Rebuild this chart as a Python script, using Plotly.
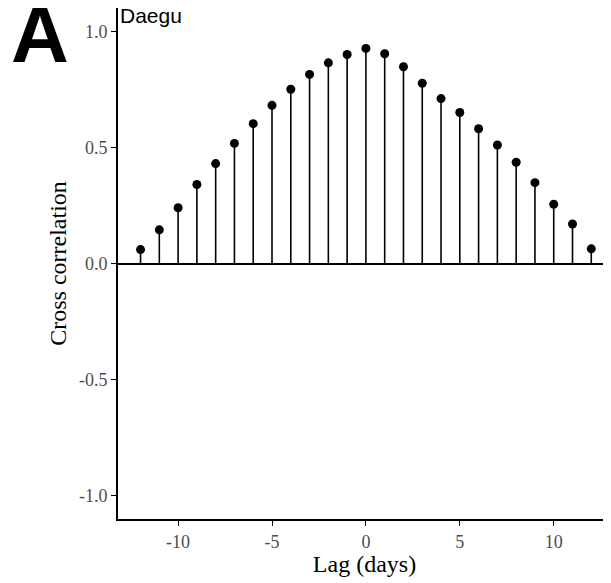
import plotly.graph_objects as go

# cross correlation by lag, Daegu
lags = list(range(-12, 13))
ccf = [0.06, 0.145, 0.24, 0.34, 0.43, 0.517, 0.602, 0.681, 0.75,
       0.814, 0.864, 0.90, 0.926, 0.903, 0.847, 0.776, 0.71, 0.65,
       0.58, 0.51, 0.436, 0.348, 0.255, 0.17, 0.063]

x_ticks = [-10, -5, 0, 5, 10]
x_labels = ["-10", "-5", "0", "5", "10"]
y_ticks = [-1.0, -0.5, 0.0, 0.5, 1.0]
y_labels = ["-1.0", "-0.5", "0.0", "0.5", "1.0"]

fig = go.Figure(go.Scatter(
    x=lags,
    y=ccf,
    mode="markers",
    marker=dict(color="black", size=9),
    error_y=dict(type="data", symmetric=False, array=[0] * len(ccf),
                 arrayminus=ccf, width=0, thickness=1.6, color="black"),
    hoverinfo="x+y",
    showlegend=False,
))

axis_font = dict(family="Liberation Serif", size=18, color="#4d4d4d")
title_font = dict(family="Liberation Serif", size=24, color="black")

# page body adds an 8px offset, so the figure is 8px smaller than the window
fig.update_layout(
    width=603, height=575,
    margin=dict(l=110, r=0, t=0, b=64),
    paper_bgcolor="white",
    plot_bgcolor="white",
    xaxis=dict(
        range=[-13.2, 13.05],
        tickvals=x_ticks, ticktext=x_labels,
        ticks="outside", ticklen=5, tickwidth=1.2, tickcolor="black",
        tickfont=axis_font,
        showline=True, linecolor="black", linewidth=1.8,
        showgrid=False, zeroline=False,
        title=dict(text="Lag (days)", font=title_font, standoff=4),
    ),
    yaxis=dict(
        range=[-1.1, 1.1],
        tickvals=y_ticks, ticktext=y_labels,
        ticks="outside", ticklen=5, tickwidth=1.2, tickcolor="black",
        tickfont=axis_font,
        showline=True, linecolor="black", linewidth=1.8,
        showgrid=False,
        zeroline=True, zerolinecolor="black", zerolinewidth=1.6,
        title=dict(text="Cross correlation", font=title_font, standoff=6),
    ),
    annotations=[
        dict(text="<b>A</b>", xref="paper", yref="paper",
             x=-0.222, y=0.948, xanchor="left", yanchor="middle",
             showarrow=False,
             font=dict(family="Liberation Sans", size=80, color="black")),
        dict(text="Daegu", xref="paper", yref="paper",
             x=0, y=0.985, xanchor="left", yanchor="middle",
             showarrow=False,
             font=dict(family="Liberation Sans", size=21, color="black")),
    ],
)

fig.write_html("out.html")
